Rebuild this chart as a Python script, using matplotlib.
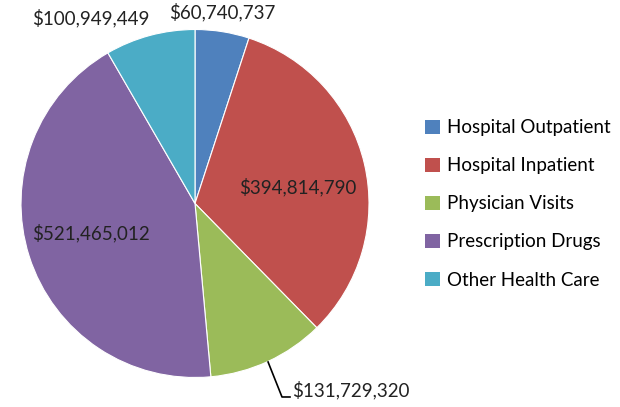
import matplotlib
matplotlib.use("Agg")
import matplotlib.pyplot as plt
from matplotlib.patches import Patch

plt.rcParams['font.family'] = ['Lato', 'DejaVu Sans']

categories = ["Hospital Outpatient", "Hospital Inpatient", "Physician Visits",
              "Prescription Drugs", "Other Health Care"]
values = [60740737, 394814790, 131729320, 521465012, 100949449]
colors = ["#4F81BD", "#C0504D", "#9BBB59", "#8064A2", "#4BACC6"]

fig = plt.figure(figsize=(6.2, 4.07), dpi=100)
W, H = 620, 407
cx, cy, r = 195, 203.5, 174
ax = fig.add_axes([(cx - r) / W, (H - cy - r) / H, 2 * r / W, 2 * r / H])
ax.pie(values, colors=colors, startangle=90, counterclock=False, radius=1,
       wedgeprops=dict(edgecolor="white", linewidth=0.8))
ax.set_xlim(-1, 1)
ax.set_ylim(-1, 1)
ax.set_aspect("equal")
ax.axis("off")

def lab(v):
    return "${:,}".format(v)

fs = 13.5
tc = "#222222"
ax.text(0.155, 1.10, lab(values[0]), ha="center", va="center", fontsize=fs, color=tc, clip_on=False)
ax.text(0.59, 0.095, lab(values[1]), ha="center", va="center", fontsize=fs, color=tc)
ax.text(0.557, -1.072, lab(values[2]), ha="left", va="center", fontsize=fs, color=tc, clip_on=False)
ax.text(-0.60, -0.17, lab(values[3]), ha="center", va="center", fontsize=fs, color=tc)
ax.text(-0.60, 1.066, lab(values[4]), ha="center", va="center", fontsize=fs, color=tc, clip_on=False)
# leader line for physician visits
ax.plot([0.42, 0.50, 0.546], [-0.911, -1.112, -1.112], color="black", lw=1.2, clip_on=False)

handles = [Patch(facecolor=c, edgecolor="none") for c in colors]
fig.legend(handles, categories, loc="center left", bbox_to_anchor=(425 / W, 1 - 204 / H),
           frameon=False, fontsize=fs, handlelength=0.8, handleheight=0.75,
           handletextpad=0.35, labelspacing=1.12, borderaxespad=0, borderpad=0)

fig.savefig("out.png", dpi=100)
